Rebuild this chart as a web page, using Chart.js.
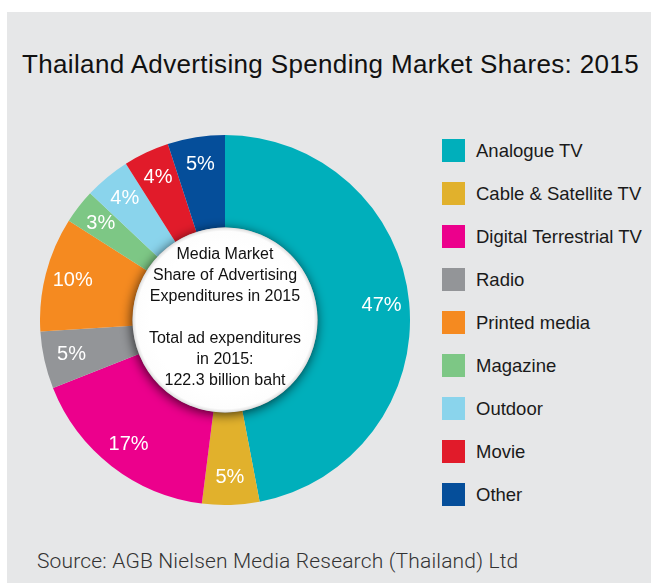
<!DOCTYPE html>
<html>
<head>
<meta charset="utf-8">
<script src="https://cdn.jsdelivr.net/npm/chart.js@4/dist/chart.umd.min.js"></script>
<style>
  html, body { margin: 0; padding: 0; background: #ffffff; }
  body { width: 651px; height: 583px; position: relative; overflow: hidden; }
  #panel { position: absolute; left: 7px; top: 12px; width: 644px; height: 571px; background: #e6e7e8; }
  #title { position: absolute; left: 22px; top: 51px; font: 26px "Liberation Sans", Arial, sans-serif;
           letter-spacing: 0.35px; color: #111; line-height: 26px; white-space: nowrap; }
  #chartBox { position: absolute; left: 40px; top: 135px; width: 370px; height: 370px; }
  #legend { position: absolute; left: 442px; top: 129px; }
  .row { display: flex; align-items: center; height: 43px; }
  .sw { width: 23px; height: 23px; margin-right: 11px; flex: none; }
  .lab { font: 18.5px "Liberation Sans", Arial, sans-serif; color: #1a1a1a; white-space: nowrap; }
  #source { position: absolute; left: 37px; top: 551px; font: 300 21px Roboto, "Liberation Sans", sans-serif;
            letter-spacing: 0.17px; color: #333; line-height: 21px; white-space: nowrap; }
</style>
</head>
<body>
<div id="panel"></div>
<div id="title">Thailand Advertising Spending Market Shares: 2015</div>
<div id="chartBox"><canvas id="c" width="370" height="370"></canvas></div>
<div id="legend"></div>
<div id="source">Source: AGB Nielsen Media Research (Thailand) Ltd</div>
<script>
// Media categories and their share of 2015 ad spending (%)
const categories = ["Analogue TV", "Cable & Satellite TV", "Digital Terrestrial TV", "Radio",
                    "Printed media", "Magazine", "Outdoor", "Movie", "Other"];
const shares = [47, 5, 17, 5, 10, 3, 4, 4, 5];
const colors = ["#00afbb", "#e1b12c", "#ec008c", "#939598", "#f58a20",
                "#7dc785", "#8ad4ec", "#e11b2a", "#054e9a"];
const centerLines = ["Media Market", "Share of Advertising", "Expenditures in 2015", "",
                     "Total ad expenditures", "in 2015:", "122.3 billion baht"];

// Legend on the right
const legend = document.getElementById("legend");
categories.forEach((name, i) => {
  const row = document.createElement("div");
  row.className = "row";
  const sw = document.createElement("div");
  sw.className = "sw";
  sw.style.background = colors[i];
  const lab = document.createElement("div");
  lab.className = "lab";
  lab.textContent = name;
  row.appendChild(sw);
  row.appendChild(lab);
  legend.appendChild(row);
});

// White centre disc with a soft shadow, centre caption and slice percentages
const decorations = {
  id: "decorations",
  afterDatasetsDraw(chart) {
    const ctx = chart.ctx;
    const meta = chart.getDatasetMeta(0);
    const first = meta.data[0];
    const cx = first.x, cy = first.y;
    const rIn = first.innerRadius, rOut = first.outerRadius;

    // slice labels
    ctx.save();
    ctx.fillStyle = "#ffffff";
    ctx.font = '20px "Liberation Sans", Arial, sans-serif';
    ctx.textAlign = "center";
    ctx.textBaseline = "middle";
    meta.data.forEach((arc, i) => {
      const mid = (arc.startAngle + arc.endAngle) / 2;
      const r = rIn + 0.7 * (rOut - rIn);
      ctx.fillText(shares[i] + "%", cx + r * Math.cos(mid), cy + r * Math.sin(mid));
    });
    ctx.restore();

    // centre disc
    ctx.save();
    ctx.shadowColor = "rgba(0,0,0,0.7)";
    ctx.shadowBlur = 12;
    ctx.shadowOffsetX = -1;
    ctx.shadowOffsetY = 2;
    const g = ctx.createRadialGradient(cx, cy, rIn * 0.8, cx, cy, rIn);
    g.addColorStop(0, "#ffffff");
    g.addColorStop(0.8, "#fdfdfd");
    g.addColorStop(1, "#dedede");
    ctx.fillStyle = g;
    ctx.beginPath();
    ctx.arc(cx, cy, rIn, 0, Math.PI * 2);
    ctx.fill();
    ctx.restore();

    // centre caption
    ctx.save();
    ctx.fillStyle = "#111111";
    ctx.font = '16px "Liberation Sans", Arial, sans-serif';
    ctx.textAlign = "center";
    ctx.textBaseline = "middle";
    const lh = 21;
    centerLines.forEach((t, i) => {
      ctx.fillText(t, cx, cy - 2 + (i - 3) * lh);
    });
    ctx.restore();
  }
};

new Chart(document.getElementById("c"), {
  type: "doughnut",
  data: {
    labels: categories,
    datasets: [{
      data: shares,
      backgroundColor: colors,
      borderWidth: 0,
      hoverOffset: 0
    }]
  },
  options: {
    responsive: false,
    animation: false,
    cutout: "50%",
    layout: { padding: 0 },
    plugins: {
      legend: { display: false },
      tooltip: { enabled: false }
    }
  },
  plugins: [decorations]
});
</script>
</body>
</html>
